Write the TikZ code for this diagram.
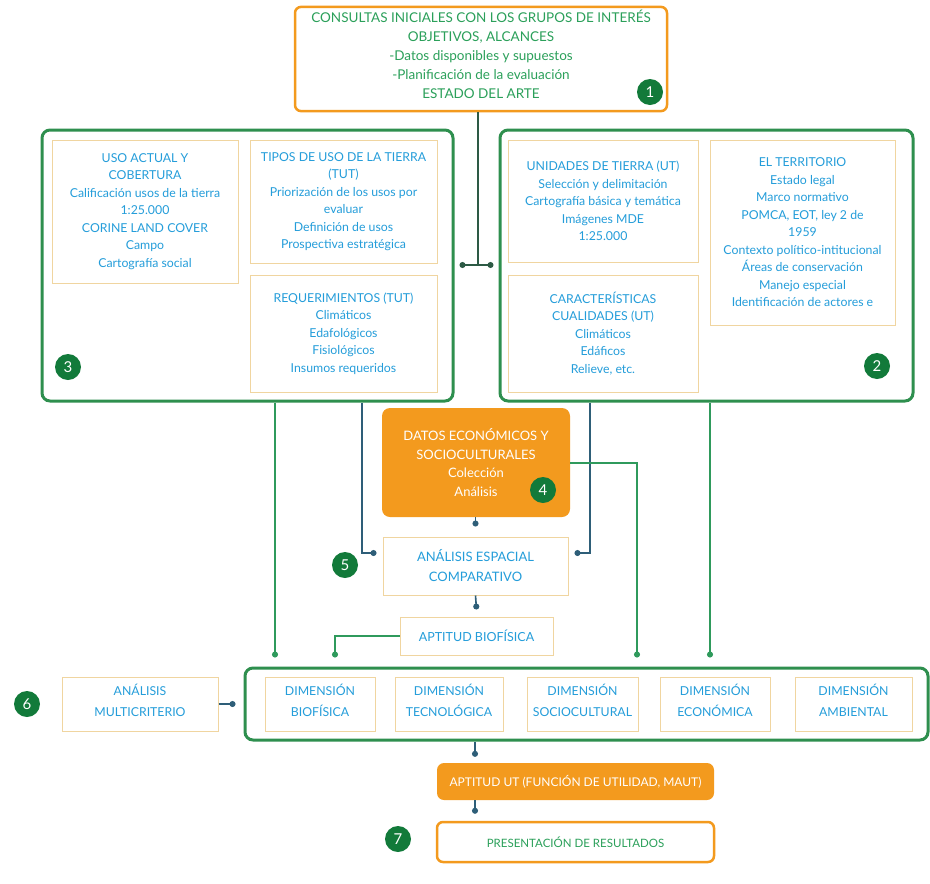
\documentclass[tikz,border=0pt]{standalone}
\usepackage{fontspec}
\setmainfont{Lato}
\usetikzlibrary{arrows.meta,calc}
\definecolor{orng}{HTML}{F39A1E}
\definecolor{tanb}{HTML}{F0D5A0}
\definecolor{grp}{HTML}{2E8F4E}
\definecolor{txtb}{HTML}{249DDA}
\definecolor{txtg}{HTML}{2BA05A}
\definecolor{circ}{HTML}{127A3A}
\definecolor{lgreen}{HTML}{2F9A5C}
\definecolor{lblue}{HTML}{2E5E78}
\definecolor{ldark}{HTML}{2D5A45}
\tikzset{
  inbox/.style={draw=tanb, fill=white, line width=1pt, align=center, text=txtb, inner sep=2pt,
    font=\fontsize{12.3}{17.5}\selectfont},
  grpbox/.style={draw=grp, line width=3pt, rounded corners=8pt},
  numc/.style={circle, fill=circ, text=white, minimum size=26pt, inner sep=0pt, font=\fontsize{15}{15}\selectfont},
  gconn/.style={draw=lgreen, line width=1.6pt, -{Circle[length=6pt]}},
  bconn/.style={draw=lblue, line width=1.6pt, -{Circle[length=6pt]}},
}
\begin{document}
\begin{tikzpicture}[x=1pt,y=-1pt]
\useasboundingbox (0,0) rectangle (930,884);
% group boxes
\node[grpbox, minimum width=411pt, minimum height=271pt] (gL) at (247.5,265.5) {};
\node[grpbox, minimum width=413pt, minimum height=271pt] (gR) at (706.5,265.5) {};
% box 1
\node[draw=orng, line width=2.5pt, rounded corners=6pt, fill=white, minimum width=372pt, minimum height=98pt,
  align=center, text=txtg, font=\fontsize{13.5}{19}\selectfont, text depth=9pt] (b1) at (481,59)
  {CONSULTAS INICIALES CON LOS GRUPOS DE INTERÉS\\ OBJETIVOS, ALCANCES\\ -Datos disponibles y supuestos\\ -Planificación de la evaluación\\ ESTADO DEL ARTE};
% left group contents
\node[inbox, minimum width=186pt, minimum height=143pt] (uso) at (145,211.5)
  {USO ACTUAL Y\\ COBERTURA\\ Calificación usos de la tierra\\ 1:25.000\\ CORINE LAND COVER\\ Campo\\ Cartografía social};
\node[inbox, minimum width=187pt, minimum height=123pt] (tipos) at (343.5,201.5)
  {TIPOS DE USO DE LA TIERRA\\ (TUT)\\ Priorización de los usos por\\ evaluar\\ Definición de usos\\ Prospectiva estratégica};
\node[inbox, minimum width=187pt, minimum height=117pt] (req) at (343.5,333.5)
  {REQUERIMIENTOS (TUT)\\ Climáticos\\ Edafológicos\\ Fisiológicos\\ Insumos requeridos};
% right group contents
\node[inbox, minimum width=190pt, minimum height=122pt] (unid) at (603,201)
  {UNIDADES DE TIERRA (UT)\\ Selección y delimitación\\ Cartografía básica y temática\\ Imágenes MDE\\ 1:25.000};
\node[inbox, minimum width=190pt, minimum height=117pt] (car) at (603,333.5)
  {CARACTERÍSTICAS\\ CUALIDADES (UT)\\ Climáticos\\ Edáficos\\ Relieve, etc.};
\node[inbox, minimum width=185pt, minimum height=185pt] (terr) at (802.5,232.5)
  {EL TERRITORIO\\ Estado legal\\ Marco normativo\\ POMCA, EOT, ley 2 de\\ 1959\\ Contexto político-intitucional\\ Áreas de conservación\\ Manejo especial\\ Identificación de actores e};
% box 4
\node[fill=orng, rounded corners=8pt, minimum width=188pt, minimum height=109pt, align=center, text=white,
  font=\fontsize{13}{18.5}\selectfont] (b4) at (476,462.5)
  {DATOS ECONÓMICOS Y\\ SOCIOCULTURALES\\ Colección\\ Análisis};
% analysis
\node[inbox, minimum width=185pt, minimum height=58pt, font=\fontsize{13}{20}\selectfont] (ana) at (475.5,566)
  {ANÁLISIS ESPACIAL\\ COMPARATIVO};
\node[inbox, minimum width=153pt, minimum height=38pt, font=\fontsize{12.5}{20}\selectfont] (apt) at (476.5,636)
  {APTITUD BIOFÍSICA};
% container
\node[grpbox, draw=grp, minimum width=683pt, minimum height=72pt] (cont) at (586.5,704) {};
\tikzset{dimb/.style={inbox, minimum height=54pt, font=\fontsize{12.3}{21}\selectfont, text depth=8pt}}
\node[dimb, minimum width=156pt] (multi) at (140,704) {ANÁLISIS\\ MULTICRITERIO};
\node[dimb, minimum width=110pt] (dbio) at (320,704) {DIMENSIÓN\\ BIOFÍSICA};
\node[dimb, minimum width=108pt] (dtec) at (449,704) {DIMENSIÓN\\ TECNOLÓGICA};
\node[dimb, minimum width=111pt] (dsoc) at (582.5,704) {DIMENSIÓN\\ SOCIOCULTURAL};
\node[dimb, minimum width=110pt] (deco) at (715,704) {DIMENSIÓN\\ ECONÓMICA};
\node[dimb, minimum width=117pt] (damb) at (853.5,704) {DIMENSIÓN\\ AMBIENTAL};
% bottom
\node[fill=orng, rounded corners=7pt, minimum width=277pt, minimum height=37pt, text=white,
  font=\fontsize{12}{12}\selectfont] (aut) at (575.5,781.5) {APTITUD UT (FUNCIÓN DE UTILIDAD, MAUT)};
\node[draw=orng, line width=2.5pt, rounded corners=6pt, fill=white, minimum width=277pt, minimum height=40pt,
  text=txtg, font=\fontsize{11.5}{12}\selectfont] (pres) at (575.5,842) {PRESENTACIÓN DE RESULTADOS};
% number circles
\node[numc] (n1) at (650,92) {1};
\node[numc] (n2) at (877,366) {2};
\node[numc] (n3) at (68,367) {3};
\node[numc] (n4) at (543,490) {4};
\node[numc] (n5) at (345,565) {5};
\node[numc] (n6) at (27,704) {6};
\node[numc] (n7) at (398,839) {7};
% connectors
\coordinate (j1) at (478,265);
\draw[draw=ldark, line width=1.2pt] (b1.south -| j1) -- (j1);
\draw[draw=ldark, line width=1.2pt, {Circle[length=6pt]}-{Circle[length=6pt]}] ($(gL.east|-j1)+(5,0)$) -- ($(gR.west|-j1)+(-5,0)$);
\draw[bconn] (gL.south -| 362,0) |- ($(ana.west)+(-6,-13)$);
\draw[bconn] (gR.south -| 590,0) |- ($(ana.east)+(6,-13)$);
\draw[bconn] (b4.south -| ana.north) -- ($(ana.north)+(0,-10)$);
\draw[bconn] (ana.south) -- ($(apt.north)+(0,-7)$);
\draw[gconn] (apt.west) -| ($(cont.north -| 335,0)+(0,-9)$);
\draw[gconn] (gL.south -| 275,0) -- ($(cont.north -| 275,0)+(0,-9)$);
\draw[gconn] (b4.east |- 0,463) -| ($(cont.north -| 637,0)+(0,-9)$);
\draw[gconn] (gR.south -| 710,0) -- ($(cont.north -| 710,0)+(0,-9)$);
\draw[bconn] (multi.east) -- ($(cont.west)+(-8,0)$);
\draw[bconn] (cont.south -| 475,0) -- ($(aut.north -| 475,0)+(0,-6)$);
\draw[bconn] (aut.south -| 475,0) -- ($(pres.north -| 475,0)+(0,-7)$);
\end{tikzpicture}
\end{document}
